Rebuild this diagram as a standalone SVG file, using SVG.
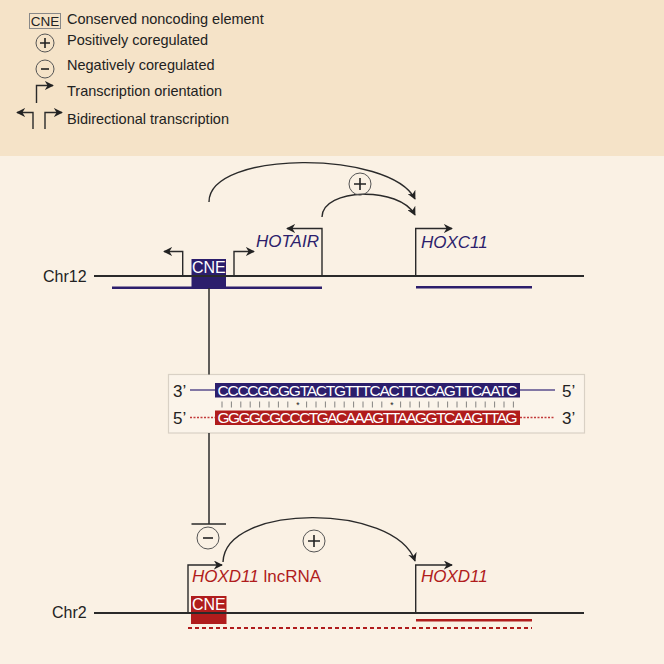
<svg xmlns="http://www.w3.org/2000/svg" width="664" height="664" viewBox="0 0 664 664">
<defs>
<marker id="ah" viewBox="0 0 10 10" refX="9" refY="5" markerWidth="9" markerHeight="9" markerUnits="userSpaceOnUse" orient="auto">
<path d="M0,0 L10,5 L0,10 L3,5 z" fill="#222"/>
</marker>
<style>
.t{font-family:"Liberation Sans",Arial,sans-serif;fill:#222}
.leg{font-size:14.5px}
.ln{fill:none;stroke:#2a2a2a;stroke-width:1.5}
.chr{stroke:#2a2a2a;stroke-width:2}
.arr{fill:none;stroke:#2a2a2a;stroke-width:1.4;marker-end:url(#ah)}
.circ{fill:none;stroke:#555;stroke-width:1}
.sym{stroke:#222;stroke-width:1.6}
.navy{fill:#2c1e6c}
.red{fill:#b01c1c}
.gi{font-size:17px;font-style:italic}
.cne{font-family:"Liberation Sans",Arial,sans-serif;font-size:16px;fill:#fff}
.seq{font-family:"Liberation Sans",Arial,sans-serif;font-size:15.5px;fill:#fff}
.end{font-family:"Liberation Sans",Arial,sans-serif;font-size:17px;fill:#222}
.tick{stroke:#666;stroke-width:0.8}
</style>
</defs>
<rect x="0" y="0" width="664" height="156" fill="#f5e3c8"/>
<rect x="0" y="156" width="664" height="508" fill="#faf1e4"/>

<g id="legend">
<rect x="29.5" y="13.5" width="31" height="15" fill="none" stroke="#888" stroke-width="1"/>
<text class="t" x="45" y="26" font-size="13.5" text-anchor="middle">CNE</text>
<text class="t leg" x="67" y="24">Conserved noncoding element</text>
<circle class="circ" cx="45" cy="43" r="9"/>
<path class="sym" d="M40,43 H50 M45,38 V48"/>
<text class="t leg" x="67" y="45">Positively coregulated</text>
<circle class="circ" cx="45" cy="69" r="9"/>
<path class="sym" d="M41,69 H49"/>
<text class="t leg" x="67" y="70">Negatively coregulated</text>
<path class="arr" d="M36.5,103 V85.5 H53"/>
<text class="t leg" x="67" y="96">Transcription orientation</text>
<path class="arr" d="M33,129 V112.5 H17"/>
<path class="arr" d="M45,129 V112.5 H62"/>
<text class="t leg" x="67" y="124">Bidirectional transcription</text>
</g>

<g id="chr12">
<line class="chr" x1="94" y1="276" x2="584" y2="276"/>
<text class="t" x="43" y="282" font-size="16">Chr12</text>
<rect x="112" y="286.5" width="210" height="2.5" class="navy"/>
<rect x="416" y="286" width="116" height="2.5" class="navy"/>
</g>

<g id="cne12">
<rect x="191.5" y="259" width="34.5" height="28" class="navy"/>
<line class="chr" x1="191.5" y1="276" x2="226" y2="276" stroke="#1a1330"/>
<text class="cne" x="208.8" y="273" text-anchor="middle">CNE</text>
</g>

<g id="hotair">
<text class="t gi" x="256" y="247" style="fill:#2c1e6c">HOTAIR</text>
</g>
<g id="hoxc11">
<text class="t gi" x="421" y="247.5" style="fill:#2c1e6c">HOXC11</text>
</g>

<g id="seqbox">
<rect x="168.5" y="374.5" width="416" height="58.5" fill="#fbf4ea" stroke="#d9d1c5" stroke-width="1.2"/>
<text class="end" x="173" y="397">3’</text>
<line x1="190" y1="390" x2="215" y2="390" stroke="#5a4e8c" stroke-width="1.5"/>
<rect x="215" y="383" width="305" height="14.5" class="navy"/>
<text class="seq" x="217.5" y="395.8" textLength="300" lengthAdjust="spacing">CCCCGCGGTACTGTTTCACTTCCAGTTCAATC</text>
<line x1="520" y1="390" x2="555" y2="390" stroke="#5a4e8c" stroke-width="1.5"/>
<text class="end" x="562" y="397">5’</text>
<text class="end" x="173" y="424">5’</text>
<line x1="190" y1="417.5" x2="215" y2="417.5" stroke="#c23a3a" stroke-width="1.5" stroke-dasharray="2,1.5"/>
<rect x="215" y="410.5" width="305" height="14.5" class="red"/>
<text class="seq" x="217.5" y="423.3" textLength="300" lengthAdjust="spacing">GGGGCGCCCTGACAAAGTTAAGGTCAAGTTAG</text>
<line x1="520" y1="417.5" x2="555" y2="417.5" stroke="#c23a3a" stroke-width="1.5" stroke-dasharray="2,1.5"/>
<text class="end" x="562" y="424">3’</text>
</g>

<g id="pairing">
<path class="tick" d="M222,401.5 v6 M231.4,401.5 v6 M240.8,401.5 v6 M250.2,401.5 v6 M259.6,401.5 v6 M269,401.5 v6 M278.4,401.5 v6 M287.8,401.5 v6 M306.6,401.5 v6 M316,401.5 v6 M325.4,401.5 v6 M334.8,401.5 v6 M344.2,401.5 v6 M353.6,401.5 v6 M363,401.5 v6 M372.4,401.5 v6 M381.8,401.5 v6 M400.6,401.5 v6 M410,401.5 v6 M419.4,401.5 v6 M428.8,401.5 v6 M438.2,401.5 v6 M447.6,401.5 v6 M457,401.5 v6 M466.4,401.5 v6 M475.8,401.5 v6 M485.2,401.5 v6 M494.6,401.5 v6 M504,401.5 v6 M513.4,401.5 v6"/>
<text class="t" x="298" y="407.5" font-size="8.5" text-anchor="middle">*</text>
<text class="t" x="392" y="407.5" font-size="8.5" text-anchor="middle">*</text>
</g>

<g id="chr2">
<line class="chr" x1="94" y1="613" x2="584" y2="613"/>
<text class="t" x="52" y="618" font-size="16">Chr2</text>
<line x1="188" y1="628" x2="532" y2="628" stroke="#b01c1c" stroke-width="2.2" stroke-dasharray="4,3"/>
<rect x="416" y="619" width="116" height="2.5" class="red"/>
</g>

<g id="cne2">
<rect x="191" y="596" width="35.5" height="28" class="red"/>
<line class="chr" x1="191" y1="613" x2="226.5" y2="613" stroke="#3a1010"/>
<text class="cne" x="208.8" y="610" text-anchor="middle">CNE</text>
</g>

<g id="lncrna">
<text class="t" x="192" y="582" font-size="17" style="fill:#b01c1c"><tspan font-style="italic">HOXD11</tspan> lncRNA</text>
</g>
<g id="hoxd11">
<text class="t gi" x="421" y="582" style="fill:#b01c1c">HOXD11</text>
</g>

<g id="connectors">
<path class="arr" d="M182.7,276 V251.5 H164"/>
<path class="arr" d="M234,276 V251.5 H254"/>
<path class="arr" d="M322,276 V228.5 H287"/>
<path class="arr" d="M415.7,276 V228.5 H452"/>
<path class="arr" d="M209,202 C209,150 390,150 415,199"/>
<path class="arr" d="M322,217 C322,188 400,186 415,215"/>
<circle class="circ" cx="360" cy="184" r="11"/>
<path class="sym" d="M354,184 H366 M360,178 V190"/>
<line class="ln" x1="209" y1="288" x2="209" y2="374.5"/>
<line class="ln" x1="209" y1="433" x2="209" y2="524"/>
<line class="ln" x1="191.5" y1="524" x2="226" y2="524"/>
<circle class="circ" cx="208" cy="538" r="11"/>
<path class="sym" d="M203,538 H213"/>
<path class="arr" d="M188,613 V565 H222"/>
<path class="arr" d="M415.7,613 V565 H452"/>
<path class="arr" d="M223,562 C225,503 395,503 415,561"/>
<circle class="circ" cx="314" cy="541" r="11"/>
<path class="sym" d="M308,541 H320 M314,535 V547"/>
</g>
</svg>
